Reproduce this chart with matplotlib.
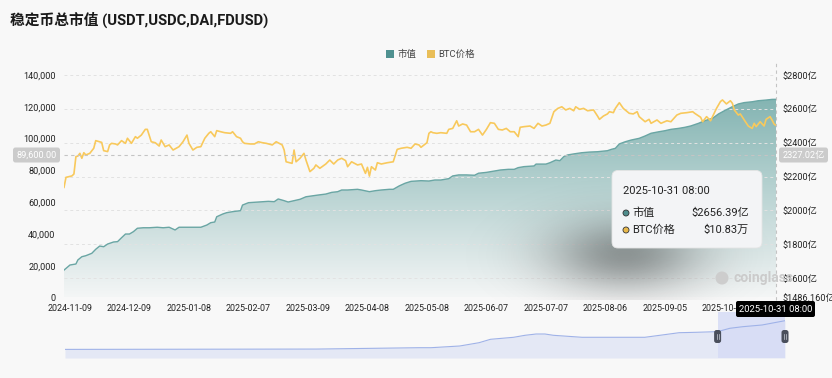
import numpy as np
import pandas as pd
import matplotlib
matplotlib.use("Agg")
import matplotlib.pyplot as plt
import matplotlib.dates as mdates
from matplotlib.patches import FancyBboxPatch, Circle, Rectangle

plt.rcParams['font.family'] = ['Roboto', 'Noto Sans CJK SC', 'DejaVu Sans']

# ---- data ----
start = pd.Timestamp('2024-11-06')
end = pd.Timestamp('2025-10-31')

btc_day = [0, 1, 4, 5, 6, 7, 8, 9, 10, 11, 13, 15, 16, 19, 20, 22, 23, 24, 26, 27,
           29, 31, 32, 34, 36, 37, 39, 41, 42, 44, 46, 48, 49, 51, 53, 55, 58, 60, 62, 63,
           65, 67, 69, 71, 73, 74, 76, 77, 79, 81, 84, 85, 87, 89, 90, 91, 94, 96, 98, 100,
           102, 105, 107, 110, 111, 112, 115, 116, 117, 119, 121, 122, 124, 126, 127, 129, 132, 134, 136, 138,
           140, 142, 143, 145, 148, 150, 152, 153, 154, 155, 157, 158, 160, 163, 166, 168, 170, 173, 175, 177,
           179, 180, 183, 184, 185, 186, 188, 190, 193, 194, 196, 198, 199, 201, 203, 205, 207, 209, 211, 213,
           215, 217, 219, 221, 223, 225, 227, 229, 230, 232, 235, 237, 239, 241, 243, 245, 247, 249, 251, 253,
           255, 257, 258, 260, 262, 264, 267, 269, 270, 272, 274, 275, 277, 278, 280, 282, 285, 287, 289, 290,
           293, 295, 296, 299, 301, 304, 306, 309, 311, 314, 317, 318, 321, 322, 324, 326, 327, 329, 331, 332,
           334, 336, 337, 338, 340, 341, 343, 345, 347, 348, 349, 351, 353, 354, 356, 357, 358, 359]
btc_price = [69300, 75600, 76500, 77700, 88600, 89000, 90700, 87600, 91100, 89700, 90700, 93900, 98700, 97600, 92400, 91800, 96000, 97000, 96600, 96000,
             98700, 97000, 100200, 97000, 101200, 100200, 102200, 105800, 105800, 98000, 97400, 95300, 99100, 94900, 96000, 92800, 94900, 98000, 102200, 97000,
             92800, 94500, 94900, 100200, 103300, 104300, 101200, 105000, 104300, 103700, 103300, 104300, 101200, 100200, 98000, 97000, 96600, 96600, 98000, 97400,
             97000, 96000, 98000, 96000, 92800, 85400, 84400, 92800, 85400, 87600, 90700, 86500, 79200, 81300, 83400, 81300, 84000, 86500, 84000, 86500,
             87600, 86100, 82300, 85400, 83400, 84000, 78100, 81900, 76400, 82300, 80200, 84800, 84000, 84800, 85400, 93200, 93900, 94500, 93900, 96600,
             96000, 94500, 97400, 103300, 104300, 103700, 103300, 103700, 103300, 105800, 106400, 111200, 107900, 109200, 108500, 104300, 104300, 105800, 102200, 105800,
             110000, 109600, 105800, 105400, 106400, 104300, 104300, 101200, 107100, 107500, 107900, 106400, 109600, 107900, 108500, 109600, 116900, 119000, 120000, 118000,
             119000, 117500, 120000, 118400, 119000, 117500, 118000, 114200, 112100, 114200, 115500, 116900, 116300, 119000, 122600, 119000, 115900, 115500, 116900, 113800,
             110600, 112100, 109600, 111700, 109600, 111200, 110600, 114800, 115900, 116300, 116900, 115900, 113400, 110600, 113800, 111200, 113800, 119000, 123300, 124300,
             121800, 123800, 122200, 118000, 114800, 115500, 111700, 107900, 106400, 109600, 107500, 110600, 107900, 112100, 113800, 111700, 109200, 108300]

cap_day = [0, 3, 6, 7, 9, 11, 14, 16, 18, 20, 22, 25, 27, 29, 31, 33, 35, 37, 40, 43,
           47, 50, 53, 56, 58, 62, 65, 69, 72, 74, 76, 77, 80, 82, 85, 89, 90, 93, 98, 103,
           106, 108, 111, 113, 116, 119, 122, 125, 128, 132, 135, 138, 140, 143, 148, 150, 154, 157, 160, 164,
           166, 169, 172, 175, 180, 184, 187, 190, 194, 196, 199, 203, 207, 209, 213, 216, 220, 224, 227, 229,
           232, 237, 238, 243, 245, 248, 250, 252, 254, 257, 261, 265, 269, 274, 276, 278, 280, 283, 286, 290,
           293, 296, 300, 303, 306, 310, 313, 316, 320, 323, 327, 330, 333, 337, 340, 343, 347, 350, 354, 357, 359]
cap_value = [1648, 1678, 1684, 1708, 1727, 1733, 1747, 1771, 1790, 1786, 1802, 1814, 1816, 1839, 1861, 1861, 1875, 1895, 1898, 1898,
             1901, 1898, 1901, 1885, 1901, 1901, 1901, 1901, 1914, 1928, 1932, 1963, 1979, 1987, 1993, 1999, 2032, 2046, 2050, 2054,
             2052, 2068, 2058, 2050, 2058, 2066, 2081, 2086, 2091, 2097, 2107, 2111, 2121, 2121, 2125, 2121, 2111, 2117, 2121, 2125,
             2125, 2145, 2161, 2172, 2176, 2174, 2180, 2180, 2188, 2204, 2210, 2210, 2208, 2220, 2225, 2231, 2239, 2243, 2243, 2253,
             2259, 2263, 2274, 2274, 2282, 2298, 2294, 2318, 2328, 2334, 2341, 2345, 2347, 2353, 2361, 2367, 2393, 2406, 2416, 2426,
             2440, 2456, 2465, 2471, 2479, 2485, 2491, 2499, 2515, 2530, 2544, 2570, 2589, 2613, 2629, 2637, 2642, 2648, 2652, 2656, 2656.39]

# history shown in the zoom slider (亿 USD)
slider_dates = ['2015-05-01', '2019-01-01', '2020-07-01', '2020-09-01', '2021-02-01', '2021-05-15', '2021-07-15',
                '2021-11-15', '2022-01-15', '2022-03-15', '2022-05-01', '2022-06-15', '2022-11-15', '2023-04-15',
                '2023-10-15', '2024-01-15', '2024-04-15', '2024-07-15', '2024-11-06', '2025-01-10', '2025-03-20',
                '2025-07-01', '2025-10-31']
slider_cap = [10, 40, 166, 166, 323, 627, 941, 1125, 1310, 1429, 1429, 1310, 1125, 1125,
              1125, 1337, 1549, 1586, 1648, 1955, 2103, 2260, 2656]

btc_ticks = [0, 20000, 40000, 60000, 80000, 100000, 120000, 140000]
cap_ticks = [1486.16, 1600, 1800, 2000, 2200, 2400, 2600, 2800]
cap_labels = ['$1486.160亿', '$1600亿', '$1800亿', '$2000亿', '$2200亿', '$2400亿', '$2600亿', '$2800亿']
x_ticks = pd.date_range('2024-11-09', periods=12, freq='30D')

cross_btc = 89600.00
cross_cap = 2327.02
tip_time = '2025-10-31 08:00'
tip_cap = '$2656.39亿'
tip_btc = '$10.83万'

assert len(btc_day) == len(btc_price)
assert len(cap_day) == len(cap_value)
assert len(slider_dates) == len(slider_cap)

btc_dates = start + pd.to_timedelta(btc_day, unit='D')
cap_dates = start + pd.to_timedelta(cap_day, unit='D')
slider_dates = pd.to_datetime(slider_dates)

# ---- styling ----
W, H = 832, 378
BG = '#f8f8f8'
TEAL = '#6aa6a4'
TEAL_DARK = '#4f9190'
GOLD = '#f8c95c'
TXT = '#222222'

fig = plt.figure(figsize=(W / 100, H / 100), dpi=100, facecolor=BG)

# main chart: market cap on the right axis
ax = fig.add_axes([64 / W, 1 - 297.5 / H, 712 / W, 222.5 / H])
ax.set_facecolor('none')
cap_lo, cap_hi = cap_ticks[0], cap_ticks[-1]
fill = ax.fill_between(cap_dates, cap_value, cap_lo, color='none', lw=0)
top_c = np.array([118, 172, 170]) / 255
bot_c = np.array([244, 246, 246]) / 255
t = np.linspace(0, 1, 256)[:, None, None]
grad = top_c * (1 - t) + bot_c * t
img = ax.imshow(grad, extent=[mdates.date2num(start), mdates.date2num(end), cap_lo, cap_hi],
                aspect='auto', origin='upper', zorder=1)
img.set_clip_path(fill.get_paths()[0], transform=ax.transData)
ax.plot(cap_dates, cap_value, color=TEAL, lw=1.0, zorder=2)
ax.set_xlim(start, end)
ax.set_ylim(cap_lo, cap_hi)

# BTC price on the left axis
bt = ax.twinx()
bt.plot(btc_dates, btc_price, color=GOLD, lw=1.2, zorder=3)
bt.set_ylim(btc_ticks[0], btc_ticks[-1])
bt.set_yticks(btc_ticks)
bt.set_yticklabels([f'{v:,}' for v in btc_ticks])
bt.yaxis.tick_left()
bt.tick_params(axis='y', length=0, pad=6, labelsize=6.6, colors=TXT)
for s in bt.spines.values():
    s.set_visible(False)

# twinx moved the cap ticks to the left, put them back on the right
ax.yaxis.tick_right()
ax.set_yticks(cap_ticks)
ax.set_yticklabels(cap_labels)
ax.set_xticks(x_ticks)
ax.set_xticklabels([d.strftime('%Y-%m-%d') for d in x_ticks])
ax.tick_params(axis='y', length=0, pad=5, labelsize=6.6, colors=TXT)
ax.tick_params(axis='x', length=0, pad=5, labelsize=6.4, colors=TXT)
ax.grid(axis='y', ls=(0, (3, 3)), color='#e2e2e2', lw=0.7)
for s in ax.spines.values():
    s.set_visible(False)

# crosshair
bt.axhline(cross_btc, color='#c4c4c4', lw=0.8, ls=(0, (3, 3)), zorder=4)
bt.axvline(end, ymin=-0.01, ymax=1.06, color='#c4c4c4', lw=0.8, ls=(0, (3, 3)), clip_on=False, zorder=4)

# zoom slider
sl = fig.add_axes([65 / W, 1 - 358 / H, 720 / W, 46 / H])
sl.set_xlim(slider_dates[0], slider_dates[-1])
sl.set_ylim(-784, 3458)
sl.fill_between(slider_dates, slider_cap, -784, color='#e4e8f5', lw=0)
sl.axvspan(start, end, color='#d6dcf6', alpha=0.85, lw=0)
sl.plot(slider_dates, slider_cap, color='#9fb2e8', lw=0.8)
sl.axis('off')

# overlay in pixel coordinates for the UI decorations
ov = fig.add_axes([0, 0, 1, 1])
ov.set_xlim(0, W)
ov.set_ylim(H, 0)
ov.axis('off')

# title and legend
ov.text(10, 20, '稳定币总市值 (USDT,USDC,DAI,FDUSD)', fontsize=10.6, weight='bold',
        color='#1a1a1a', va='center', ha='left')
ov.add_patch(Rectangle((386, 50), 7.5, 7.5, fc=TEAL_DARK, ec='none'))
ov.text(397, 54, '市值', fontsize=6.8, color='#444', va='center')
ov.add_patch(Rectangle((427, 50), 7.5, 7.5, fc='#e9be58', ec='none'))
ov.text(438, 54, 'BTC价格', fontsize=6.8, color='#444', va='center')

# crosshair labels
ov.add_patch(FancyBboxPatch((13, 147.5), 47, 15, boxstyle='round,pad=0,rounding_size=2.5',
                            fc='#cbcbcb', ec='none'))
ov.text(36.5, 155.3, f'{cross_btc:,.2f}', fontsize=6.6, color='white', ha='center', va='center')
ov.add_patch(FancyBboxPatch((779, 147.5), 49, 15, boxstyle='round,pad=0,rounding_size=2.5',
                            fc='#cbcbcb', ec='none'))
ov.text(803.5, 155.3, f'{cross_cap:.2f}亿', fontsize=6.6, color='white', ha='center', va='center')

# soft tooltip shadow
yy, xx = np.mgrid[0:H, 0:W] + 0.5
d2 = ((xx - 625) / 75.0) ** 2 + ((yy - 255) / 36.0) ** 2
shade = np.zeros((H, W, 4))
shade[..., 3] = 0.36 * np.exp(-d2)
inside = (xx > 64) & (xx < 776) & (yy > 75) & (yy < 300)
shade[..., 3] *= inside
ov.imshow(shade, extent=[0, W, H, 0], zorder=1, interpolation='bilinear')
ov.set_xlim(0, W)
ov.set_ylim(H, 0)

# watermark
ov.add_patch(Circle((722, 278), 6.5, fc='#cdcdcd', ec='none', zorder=2))
ov.text(733, 278, 'coinglass', fontsize=10, weight='bold', color='#cbcbcb',
        va='center', ha='left', zorder=2)

# tooltip
ov.add_patch(FancyBboxPatch((612, 170.5), 150, 77.5, boxstyle='round,pad=0,rounding_size=6',
                            fc='#f3f4f6', ec='#e4e4e4', lw=0.6, zorder=5))
ov.text(623, 190.5, tip_time, fontsize=8, color=TXT, va='center', zorder=6)
ov.add_patch(Circle((626, 213), 3, fc='#4f8d8c', ec='#333', lw=0.6, zorder=6))
ov.text(632, 213, '市值', fontsize=8, color=TXT, va='center', zorder=6)
ov.text(749, 213, tip_cap, fontsize=8, color=TXT, va='center', ha='right', zorder=6)
ov.add_patch(Circle((626, 230), 3, fc='#e8b84a', ec='#333', lw=0.6, zorder=6))
ov.text(632, 230, 'BTC价格', fontsize=8, color=TXT, va='center', zorder=6)
ov.text(749, 230, tip_btc, fontsize=8, color=TXT, va='center', ha='right', zorder=6)

# x-axis pointer label
ov.add_patch(FancyBboxPatch((736, 301), 79, 16, boxstyle='round,pad=0,rounding_size=2',
                            fc='#000000', ec='none', zorder=6))
ov.text(775.5, 309.2, tip_time, fontsize=6.8, color='white', ha='center', va='center', zorder=7)

# slider handles at the edges of the selected window
for d in (start, end):
    xd = sl.transData.transform((mdates.date2num(d), 0))[0]
    xp = ov.transData.inverted().transform((xd, 0))[0]
    ov.add_patch(FancyBboxPatch((xp - 3.5, 330), 7, 13, boxstyle='round,pad=0,rounding_size=2.5',
                                fc='#4a4f5c', ec='none', zorder=6))
    ov.plot([xp - 1, xp - 1], [334, 339], color='#c8ccd6', lw=0.5, zorder=7)
    ov.plot([xp + 1, xp + 1], [334, 339], color='#c8ccd6', lw=0.5, zorder=7)

fig.savefig('out.png', dpi=100, facecolor=BG)
